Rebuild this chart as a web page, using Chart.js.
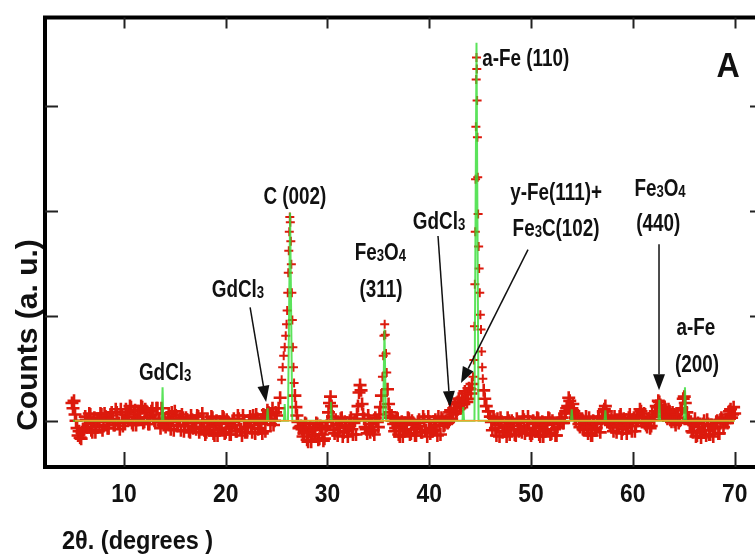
<!DOCTYPE html>
<html><head><meta charset="utf-8">
<script src="https://cdn.jsdelivr.net/npm/chart.js@4/dist/chart.umd.min.js"></script>
<style>html,body{margin:0;padding:0;background:#fff;}canvas{display:block;}</style>
</head><body>
<canvas id="c" width="755" height="558"></canvas>
<script>
// Observed XRD pattern (2θ in degrees, counts in a.u.) - main scan points
const twoTheta = [
 4.9,5.0,5.1,5.2,5.3,5.4,5.5,5.6,5.8,6.0,
 6.2,6.4,6.6,6.8,7.0,7.2,7.4,7.6,7.8,8.0,8.2,8.4,8.6,8.8,9.0,9.2,9.4,9.6,9.8,10.0,
 10.2,10.4,10.6,10.8,11.0,11.2,11.4,11.6,11.8,12.0,12.2,12.4,12.6,12.8,13.0,13.2,13.4,13.6,13.8,14.0,
 14.2,14.4,14.6,14.8,15.0,15.2,15.4,15.6,15.8,16.0,16.2,16.4,16.6,16.8,17.0,17.2,17.4,17.6,17.8,18.0,
 18.2,18.4,18.6,18.8,19.0,19.2,19.4,19.6,19.8,20.0,20.2,20.4,20.6,20.8,21.0,21.2,21.4,21.6,21.8,22.0,
 22.2,22.4,22.6,22.8,23.0,23.2,23.4,23.6,23.8,24.0,24.2,24.4,24.6,24.8,25.0,
 25.2,25.35,25.5,25.6,25.7,25.8,25.9,25.98,26.04,26.10,26.15,26.20,26.25,26.30,26.35,26.40,26.45,26.50,26.55,26.60,26.66,26.72,26.80,26.90,27.00,27.10,27.20,
 27.4,27.6,27.8,28.0,28.2,28.4,28.6,28.8,29.0,29.2,29.4,29.6,29.8,
 30.0,30.1,30.2,30.3,30.4,30.5,
 30.6,30.8,31.0,31.2,31.4,31.6,31.8,32.0,32.2,32.4,32.6,32.8,
 32.9,33.0,33.1,33.2,33.3,33.4,33.5,
 33.6,33.8,34.0,34.2,34.4,34.6,34.8,35.0,35.1,
 35.2,35.3,35.4,35.48,35.55,35.62,35.68,35.75,35.82,35.90,36.00,36.10,36.20,
 36.4,36.6,36.8,37.0,37.2,37.4,37.6,37.8,38.0,38.2,38.4,38.6,38.8,39.0,39.2,39.4,39.6,39.8,40.0,40.2,40.4,40.6,40.8,41.0,41.2,41.4,41.6,
 41.8,42.0,42.2,42.4,42.6,42.8,43.0,43.2,43.4,43.6,43.8,44.0,44.2,
 44.30,44.38,44.44,44.48,44.52,44.55,44.58,44.61,44.64,44.67,44.70,44.73,44.76,44.80,44.85,44.90,44.96,45.02,45.08,45.14,45.20,45.26,45.35,45.45,45.60,45.80,46.00,
 46.2,46.4,46.6,46.8,47.0,47.2,47.4,47.6,47.8,48.0,48.2,48.4,48.6,48.8,49.0,49.2,49.4,49.6,49.8,50.0,50.2,50.4,50.6,50.8,51.0,51.2,51.4,51.6,51.8,52.0,52.2,52.4,52.6,52.8,
 53.0,53.2,53.4,53.6,53.8,54.0,54.2,54.4,54.6,54.8,
 55.0,55.2,55.4,55.6,55.8,56.0,56.2,56.4,56.6,56.8,
 57.0,57.2,57.4,57.6,57.8,
 58.0,58.2,58.4,58.6,58.8,59.0,59.2,59.4,59.6,59.8,60.0,60.2,60.4,
 60.6,60.8,61.0,61.2,
 61.4,61.6,61.8,62.0,62.2,
 62.4,62.6,62.8,63.0,63.2,63.4,63.6,63.8,64.0,64.2,64.4,64.6,
 64.8,64.95,65.05,65.15,65.3,65.5,
 65.7,65.9,66.1,66.3,66.5,66.7,66.9,67.1,67.3,67.5,67.7,67.9,68.1,68.3,68.5,68.7,68.9,69.1,69.3,69.5,69.7,69.9,70.0
];
const counts = [
 217,212,219,206,200,193,186,190,183,192,
 204,194,207,191,199,189,202,196,206,195,204,193,201,208,196,211,198,192,206,200,
 211,201,214,198,206,196,209,203,213,199,208,197,205,212,200,212,199,193,207,201,
 197,207,192,202,209,195,200,191,203,195,201,190,205,193,198,205,189,194,200,187,
 201,191,204,188,196,186,199,193,203,189,198,187,195,202,190,205,192,186,200,194,
 194,204,189,199,206,192,197,188,203,202,208,197,212,200,205,
 212,222,239,251,262,270,281,292,305,322,341,362,380,394,389,371,349,322,296,270,251,236,224,213,205,199,193,
 195,185,198,182,190,180,193,187,197,183,192,181,193,
 199,208,217,223,214,204,
 191,201,186,196,203,189,194,185,200,192,198,187,
 206,214,227,234,229,216,206,
 202,192,205,189,197,187,200,194,206,
 213,224,242,262,281,292,282,264,246,230,216,208,203,
 200,190,203,187,195,185,198,192,202,188,197,186,194,201,189,204,191,185,199,193,191,201,186,196,203,195,200,
 198,208,202,212,207,218,212,222,216,226,221,230,235,
 242,258,290,330,380,430,480,525,546,535,505,470,432,397,366,345,322,301,287,266,251,240,229,221,214,209,204,
 191,201,186,196,203,189,194,185,200,192,198,187,202,190,195,204,188,193,199,186,200,190,203,187,195,185,198,192,202,188,197,186,194,201,
 203,198,209,214,219,212,209,201,205,194,
 201,191,204,188,196,186,199,193,203,189,
 204,211,209,201,196,
 194,204,189,199,206,192,197,188,203,195,201,190,205,
 205,209,204,198,
 194,202,195,204,209,
 213,218,212,205,211,202,209,199,206,196,203,200,
 212,221,223,217,208,201,
 199,189,202,186,194,184,197,191,201,187,196,185,193,200,188,203,194,201,198,209,203,213,207
];
// Observed XRD pattern - intermediate scan points (baseline regions)
const twoThetaMid = [
 5.7,5.9,
 6.1,6.3,6.5,6.7,6.9,7.1,7.3,7.5,7.7,7.9,8.1,8.3,8.5,8.7,8.9,9.1,9.3,9.5,9.7,9.9,
 10.1,10.3,10.5,10.7,10.9,11.1,11.3,11.5,11.7,11.9,12.1,12.3,12.5,12.7,12.9,13.1,13.3,13.5,13.7,13.9,
 14.1,14.3,14.5,14.7,14.9,15.1,15.3,15.5,
 15.7,15.9,16.1,16.3,16.5,16.7,16.9,17.1,17.3,17.5,17.7,17.9,
 18.1,18.3,18.5,18.7,18.9,19.1,19.3,19.5,19.7,19.9,20.1,20.3,20.5,20.7,20.9,21.1,21.3,21.5,21.7,21.9,22.1,
 22.3,22.5,22.7,22.9,23.1,23.3,23.5,23.7,23.9,
 24.1,24.3,24.5,24.7,24.9,
 27.3,27.5,27.7,27.9,28.1,28.3,28.5,28.7,28.9,29.1,29.3,29.5,29.7,29.9,
 30.7,30.9,31.1,31.3,31.5,31.7,31.9,32.1,32.3,32.5,32.7,
 33.7,33.9,34.1,34.3,34.5,34.7,34.9,
 36.3,36.5,36.7,36.9,37.1,37.3,37.5,37.7,37.9,38.1,38.3,38.5,38.7,38.9,39.1,39.3,39.5,39.7,39.9,40.1,40.3,40.5,40.7,40.9,41.1,41.3,41.5,41.7,
 41.9,42.1,42.3,42.5,42.7,42.9,43.1,43.3,43.5,43.7,43.9,44.1,
 46.1,46.3,46.5,46.7,46.9,47.1,47.3,47.5,47.7,47.9,48.1,48.3,48.5,48.7,48.9,49.1,49.3,49.5,49.7,49.9,50.1,50.3,50.5,50.7,50.9,51.1,51.3,51.5,51.7,51.9,52.1,52.3,52.5,52.7,52.9,
 53.1,53.3,53.5,53.7,53.9,54.1,54.3,54.5,54.7,54.9,
 55.1,55.3,55.5,55.7,55.9,56.1,56.3,56.5,56.7,56.9,
 57.1,57.3,57.5,57.7,57.9,
 58.1,58.3,58.5,58.7,58.9,59.1,59.3,59.5,59.7,59.9,60.1,60.3,60.5,
 60.7,60.9,61.1,61.3,61.5,61.7,61.9,62.1,62.3,
 62.5,62.7,62.9,63.1,63.3,63.5,63.7,63.9,64.1,64.3,64.5,64.7,
 65.6,65.8,66.0,66.2,66.4,66.6,66.8,67.0,67.2,67.4,67.6,67.8,68.0,68.2,68.4,68.6,68.8,69.0,69.2,69.4,69.6,69.8
];
const countsMid = [
 184,189,
 192,201,197,206,189,203,194,200,207,191,207,199,193,205,202,196,208,198,211,195,
 199,208,204,213,196,210,201,207,214,198,211,203,197,209,206,200,212,202,212,196,
 194,203,199,208,191,205,196,202,
 206,190,203,195,189,201,198,192,204,194,207,191,
 189,198,194,203,186,200,191,197,204,188,201,193,187,199,196,190,202,192,205,189,189,
 200,196,205,188,202,193,199,206,190,
 210,206,202,196,208,
 194,192,188,197,180,194,185,191,198,182,195,187,183,195,
 188,197,193,202,185,199,190,196,203,187,200,
 194,188,200,197,191,203,199,
 205,197,193,202,185,199,190,196,203,187,200,192,186,198,195,189,201,191,204,188,190,199,195,204,187,201,196,199,
 199,210,206,216,209,221,215,219,228,218,231,226,
 199,203,193,202,185,199,190,196,203,187,200,192,186,198,195,189,201,191,204,188,188,197,193,202,185,199,190,196,203,187,200,192,186,198,199,
 198,207,212,222,210,216,203,207,197,200,
 192,198,194,203,186,200,191,197,204,199,
 209,214,205,198,202,
 190,199,195,204,188,202,193,199,206,190,203,195,200,
 211,203,207,196,199,193,206,201,214,
 219,215,208,213,204,211,201,208,199,206,198,210,
 197,190,196,185,198,189,191,200,186,197,187,195,193,199,188,201,200,198,201,206,211,206
];
// Calculated pattern (green)
const calcTheta = [5.0,13.72,13.8,13.88,24.05,24.12,24.19,25.72,25.8,25.88,26.12,26.33,26.54,30.26,30.34,30.42,35.46,35.6,35.74,43.26,43.34,43.42,44.44,44.64,44.84,53.92,54.0,54.08,57.22,57.3,57.38,62.52,62.6,62.68,65.02,65.12,65.22,70.0];
const calcCounts = [200,200,232,200,200,212,200,200,216,200,200,398,200,200,218,200,200,287,200,200,213,200,200,560,200,200,211,200,200,210,200,200,220,200,200,232,200,200];
// Background (orange)
const bgTheta = [5.2, 70.0];
const bgCounts = [200, 200];
// Axis ticks
const xTickLabels = ['10','20','30','40','50','60','70'];

if (twoTheta.length !== counts.length) throw new Error('obs length mismatch ' + twoTheta.length + ' vs ' + counts.length);
if (twoThetaMid.length !== countsMid.length) throw new Error('mid length mismatch ' + twoThetaMid.length + ' vs ' + countsMid.length);
if (calcTheta.length !== calcCounts.length) throw new Error('calc length mismatch');

// Annotations (anchored in data coordinates; '_x' = subscript)
const labels = [
  {t:'GdCl_3', x:14.05, y:239, align:'center'},
  {t:'GdCl_3', x:21.2, y:318, align:'center'},
  {t:'C (002)', x:26.8, y:406, align:'center'},
  {t:'Fe_3O_4', x:35.2, y:353, align:'center'},
  {t:'(311)', x:35.25, y:318, align:'center'},
  {t:'GdCl_3', x:40.96, y:383, align:'center'},
  {t:'y-Fe(111)+', x:52.46, y:410, align:'center'},
  {t:'Fe_3C(102)', x:52.46, y:376, align:'center'},
  {t:'a-Fe (110)', x:45.2, y:538, align:'left'},
  {t:'Fe_3O_4', x:62.67, y:414, align:'center'},
  {t:'(440)', x:62.5, y:381, align:'center'},
  {t:'a-Fe', x:66.2, y:282, align:'center'},
  {t:'(200)', x:66.3, y:246, align:'center'}
];
const arrows = [
  {x1:22.4, y1:308, x2:23.97, y2:218},
  {x1:40.86, y1:376, x2:42.04, y2:213},
  {x1:49.7, y1:363, x2:43.12, y2:236},
  {x1:62.57, y1:368, x2:62.57, y2:229}
];

const SANS = '"Liberation Sans", Arial, Helvetica, sans-serif';
function parseRich(s){
  const parts=[]; let i=0, buf='';
  while(i<s.length){
    if(s[i]==='_'){ if(buf){parts.push({t:buf,sub:false});buf='';} parts.push({t:s[i+1],sub:true}); i+=2; }
    else { buf+=s[i]; i++; }
  }
  if(buf) parts.push({t:buf,sub:false});
  return parts;
}
function drawRich(ctx, str, px, py, size, sx, align){
  const parts = parseRich(str);
  const fm = 'bold ' + size + 'px ' + SANS;
  const fs = 'bold ' + Math.round(size*0.7) + 'px ' + SANS;
  let w=0;
  parts.forEach(p=>{ctx.font=p.sub?fs:fm; p.w=ctx.measureText(p.t).width; w+=p.w;});
  ctx.save();
  ctx.translate(px, py); ctx.scale(sx,1);
  ctx.textAlign='left'; ctx.textBaseline='alphabetic'; ctx.fillStyle='#111';
  let x0 = align==='left'?0:(align==='right'?-w:-w/2);
  parts.forEach(p=>{ctx.font=p.sub?fs:fm; ctx.fillText(p.t,x0,p.sub?1:0); x0+=p.w;});
  ctx.restore();
}

const decor = {
  id:'decor',
  afterDraw(chart){
    const {ctx, chartArea:a, scales:{x,y}} = chart;
    ctx.save();
    // frame
    ctx.strokeStyle='#000'; ctx.lineWidth=4; ctx.lineCap='butt';
    ctx.beginPath();
    ctx.moveTo(a.left, a.bottom+2); ctx.lineTo(a.left, a.top-2);
    ctx.moveTo(a.left-2, a.top); ctx.lineTo(a.right+5, a.top);
    ctx.moveTo(a.left-2, a.bottom); ctx.lineTo(a.right+5, a.bottom);
    ctx.stroke();
    // ticks
    ctx.strokeStyle='#222'; ctx.lineWidth=2;
    ctx.beginPath();
    x.ticks.forEach(t=>{ const px=Math.round(x.getPixelForValue(t.value))+0.5;
      ctx.moveTo(px,a.bottom); ctx.lineTo(px,a.bottom-15);
      ctx.moveTo(px,a.top); ctx.lineTo(px,a.top+11); });
    y.ticks.forEach(t=>{ const py=Math.round(y.getPixelForValue(t.value))+0.5;
      ctx.moveTo(a.left,py); ctx.lineTo(a.left+13,py);
      ctx.moveTo(a.right-5,py); ctx.lineTo(a.right,py); });
    ctx.stroke();
    // x tick labels
    x.ticks.forEach(t=>{ const s=String(t.value);
      if (xTickLabels.includes(s)) drawRich(ctx, s, x.getPixelForValue(t.value), a.bottom+35, 26, 0.88, 'center'); });
    // arrows
    ctx.strokeStyle='#111'; ctx.fillStyle='#111'; ctx.lineWidth=1.5;
    arrows.forEach(ar=>{
      const x1=x.getPixelForValue(ar.x1), y1=y.getPixelForValue(ar.y1);
      const x2=x.getPixelForValue(ar.x2), y2=y.getPixelForValue(ar.y2);
      const ang=Math.atan2(y2-y1,x2-x1), L=16, W=6;
      const bx=x2-L*Math.cos(ang), by=y2-L*Math.sin(ang);
      ctx.beginPath(); ctx.moveTo(x1,y1); ctx.lineTo(bx,by); ctx.stroke();
      ctx.beginPath();
      ctx.moveTo(x2,y2);
      ctx.lineTo(bx+W*Math.sin(ang), by-W*Math.cos(ang));
      ctx.lineTo(bx-W*Math.sin(ang), by+W*Math.cos(ang));
      ctx.closePath(); ctx.fill();
    });
    // labels
    labels.forEach(l=>{
      drawRich(ctx, l.t, x.getPixelForValue(l.x), y.getPixelForValue(l.y), 23, 0.82, l.align);
    });
    drawRich(ctx, 'A', x.getPixelForValue(69.35), y.getPixelForValue(527), 35, 0.92, 'center');
    // axis titles
    ctx.save();
    ctx.translate(37, 335); ctx.rotate(-Math.PI/2);
    ctx.font='bold 30px '+SANS; ctx.fillStyle='#111'; ctx.textAlign='center'; ctx.textBaseline='alphabetic';
    ctx.fillText('Counts (a. u.)',0,0);
    ctx.restore();
    drawRich(ctx, '2θ. (degrees )', 62, 549, 25, 0.94, 'left');
    ctx.restore();
  }
};

const observed = twoTheta.map((t,i)=>({x:t,y:counts[i]}))
  .concat(twoThetaMid.map((t,i)=>({x:t,y:countsMid[i]})));

new Chart(document.getElementById('c'), {
  type:'scatter',
  data:{
    datasets:[
      {label:'Background', data:bgTheta.map((t,i)=>({x:t,y:bgCounts[i]})), showLine:true, borderColor:'#f2a42a', borderWidth:1.5, pointRadius:0, order:0},
      {label:'Calculated', data:calcTheta.map((t,i)=>({x:t,y:calcCounts[i]})), showLine:true, borderColor:'rgba(50,220,50,0.8)', borderWidth:2, pointRadius:0, order:1},
      {label:'Observed', data:observed, showLine:false, pointStyle:'cross',
       pointRadius:(c)=> (c.raw && c.raw.y < 236) ? 6.5 : 4.5,
       pointBorderWidth:(c)=> (c.raw && c.raw.y < 236) ? 2.6 : 2,
       pointBorderColor:'#dc1a0d', pointBackgroundColor:'#dc1a0d', order:2}
    ]
  },
  options:{
    responsive:false, devicePixelRatio:1, animation:false, events:[],
    layout:{autoPadding:false, padding:{left:45, top:17.5, right:0, bottom:0}},
    plugins:{legend:{display:false}, tooltip:{enabled:false}},
    scales:{
      x:{type:'linear', position:'bottom', min:2.25, max:72,
         afterFit(s){ s.height = 91; },
         grid:{display:false, drawTicks:false}, border:{display:false},
         ticks:{display:false, stepSize:10, includeBounds:false}},
      y:{type:'linear', display:false, min:156, max:584, ticks:{stepSize:100, includeBounds:false}}
    }
  },
  plugins:[decor]
});
</script>
</body></html>
